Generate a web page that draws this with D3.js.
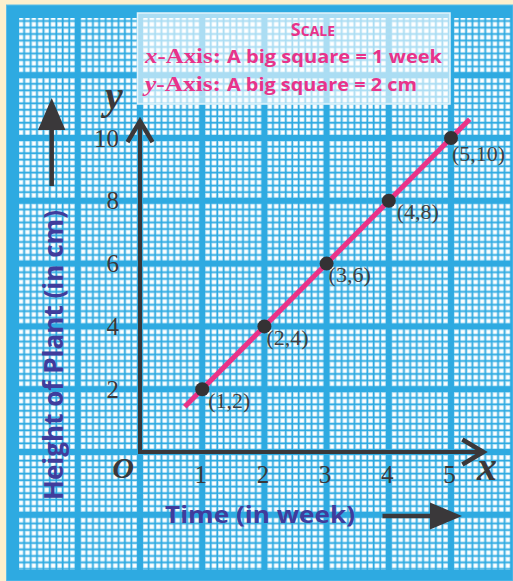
<!DOCTYPE html>
<html>
<head>
<meta charset="utf-8">
<script src="https://cdn.jsdelivr.net/npm/d3@7"></script>
<style>
  html, body { margin: 0; padding: 0; background: #fdf0cd; }
  svg { display: block; }
</style>
</head>
<body>
<svg id="chart" width="513" height="581"></svg>
<script>
// Plant growth: height (cm) against time (weeks)
const weeks = [1, 2, 3, 4, 5];
const heights = [2, 4, 6, 8, 10];
const pointLabels = ["(1,2)", "(2,4)", "(3,6)", "(4,8)", "(5,10)"];
const xTicks = [1, 2, 3, 4, 5];
const yTicks = [2, 4, 6, 8, 10];
// straight line through the plotted points, extended a little past both ends
const trendWeeks = [0.72, 5.3];
const trendHeights = [1.44, 10.6];

const scaleLines = {
  title: ["S", "CALE"],
  xAxisName: ["x", "-Axis:"],
  xAxisText: "A big square = 1 week",
  yAxisName: ["y", "-Axis:"],
  yAxisText: "A big square = 2 cm"
};
const xTitle = "Time (in week)";
const yTitle = "Height of Plant (in cm)";

// ---- styling ----
const BLUE = "#2eaae1";
const INK = "#3a383a";
const PINK = "#e8338a";
const PURPLE = "#403c9c";
const SERIF = "'Liberation Serif', 'Times New Roman', serif";
const SANS = "'Open Sans', 'Noto Sans', sans-serif";

const svg = d3.select("#chart");

const x = d3.scaleLinear().domain([0, 5]).range([140, 451]);
const y = d3.scaleLinear().domain([0, 10]).range([452, 138]);

// ---- graph-paper background ----
const bigW = x(1) - x(0);      // one week
const bigH = y(0) - y(2);      // two cm
const defs = svg.append("defs");
const pat = defs.append("pattern")
  .attr("id", "paper")
  .attr("patternUnits", "userSpaceOnUse")
  .attr("x", x(0)).attr("y", y(0))
  .attr("width", bigW).attr("height", bigH);

const major = 4.4, cell = 4.2;
const qx = (bigW - major) / 9, qy = (bigH - major) / 9;
const cells = d3.cross(d3.range(9), d3.range(9));
pat.selectAll("rect").data(cells).join("rect")
  .attr("x", d => major / 2 + (qx - cell) / 2 + d[0] * qx)
  .attr("y", d => major / 2 + (qy - cell) / 2 + d[1] * qy)
  .attr("width", cell).attr("height", cell)
  .attr("fill", "#ffffff")
  .attr("stroke", "#c4e8f8").attr("stroke-width", 0.6);

svg.append("rect")
  .attr("x", 6.5).attr("y", 5).attr("width", 513 - 6.5).attr("height", 581 - 5)
  .attr("fill", BLUE).attr("stroke", "#5cbde8").attr("stroke-width", 1);

svg.append("rect")
  .attr("x", 19).attr("y", 18).attr("width", 513 - 19).attr("height", 570 - 18)
  .attr("fill", "url(#paper)");

// ---- scale box ----
const box = svg.append("g");
box.append("rect")
  .attr("x", 137.5).attr("y", 13).attr("width", 312.5).attr("height", 91)
  .attr("fill", "#ffffff").attr("fill-opacity", 0.6)
  .attr("stroke", "#e2f4fc").attr("stroke-width", 1.5);

const title = box.append("text")
  .attr("x", 313).attr("y", 36)
  .attr("text-anchor", "middle")
  .attr("font-family", SANS).attr("font-weight", 700)
  .attr("fill", PINK);
title.append("tspan").attr("font-size", 18).text(scaleLines.title[0]);
title.append("tspan").attr("font-size", 14).text(scaleLines.title[1]);

function scaleRow(name, text, baseline, textWidth) {
  const t = box.append("text")
    .attr("x", 145).attr("y", baseline)
    .attr("font-family", SERIF).attr("font-weight", 700)
    .attr("font-size", 21).attr("fill", PINK)
    .attr("textLength", 76).attr("lengthAdjust", "spacingAndGlyphs");
  t.append("tspan").attr("font-style", "italic").text(name[0]);
  t.append("tspan").text(name[1]);
  box.append("text")
    .attr("x", 227).attr("y", baseline)
    .attr("font-family", SANS).attr("font-weight", 700)
    .attr("font-size", 18.5).attr("fill", PINK)
    .attr("textLength", textWidth).attr("lengthAdjust", "spacingAndGlyphs")
    .text(text);
}
scaleRow(scaleLines.xAxisName, scaleLines.xAxisText, 63, 215);
scaleRow(scaleLines.yAxisName, scaleLines.yAxisText, 91, 190);

// ---- axes ----
const axisLine = d3.line().x(d => x(d[0])).y(d => y(d[1]));
svg.append("path")
  .attr("d", axisLine([[0, 10.54], [0, 0], [5.52, 0]]))
  .attr("fill", "none").attr("stroke", INK).attr("stroke-width", 4)
  .attr("stroke-linejoin", "miter");

// open arrow heads at the axis ends
const yTip = [x(0), y(10.54)], xTip = [x(5.52), y(0)];
svg.append("path")
  .attr("d", `M${yTip[0] - 12.5},${yTip[1] + 21} L${yTip[0]},${yTip[1]} L${yTip[0] + 12.5},${yTip[1] + 21}`)
  .attr("fill", "none").attr("stroke", INK).attr("stroke-width", 4.5)
  .attr("stroke-linejoin", "miter");
svg.append("path")
  .attr("d", `M${xTip[0] - 21},${xTip[1] - 12.5} L${xTip[0]},${xTip[1]} L${xTip[0] - 21},${xTip[1] + 12.5}`)
  .attr("fill", "none").attr("stroke", INK).attr("stroke-width", 4.5)
  .attr("stroke-linejoin", "miter");

const xAxis = svg.append("g")
  .attr("transform", `translate(-2,${y(0)})`)
  .call(d3.axisBottom(x).tickValues(xTicks).tickSize(0).tickPadding(13).tickFormat(d3.format("d")));
const yAxis = svg.append("g")
  .attr("transform", `translate(${x(0)},0)`)
  .call(d3.axisLeft(y).tickValues(yTicks).tickSize(0).tickPadding(21).tickFormat(d3.format("d")));
[xAxis, yAxis].forEach(g => {
  g.select(".domain").remove();
  g.selectAll("text")
    .attr("font-family", SERIF).attr("font-size", 25).attr("fill", INK);
});

// axis letters and origin
svg.append("text")
  .attr("x", x(0) - 17).attr("y", y(0) + 26)
  .attr("text-anchor", "middle")
  .attr("font-family", SERIF).attr("font-style", "italic").attr("font-weight", 700)
  .attr("font-size", 30).attr("fill", INK).text("O");
svg.append("text")
  .attr("x", 487).attr("y", y(0) + 28)
  .attr("text-anchor", "middle")
  .attr("font-family", SERIF).attr("font-style", "italic").attr("font-weight", 700)
  .attr("font-size", 40).attr("fill", INK).text("x");
svg.append("text")
  .attr("x", 114).attr("y", 109)
  .attr("text-anchor", "middle")
  .attr("font-family", SERIF).attr("font-style", "italic").attr("font-weight", 700)
  .attr("font-size", 40).attr("fill", INK).text("y");

// ---- axis titles with direction arrows ----
svg.append("text")
  .attr("x", 165).attr("y", 523)
  .attr("font-family", SANS).attr("font-weight", 700)
  .attr("font-size", 23.5).attr("fill", PURPLE)
  .attr("textLength", 190).attr("lengthAdjust", "spacingAndGlyphs")
  .text(xTitle);
svg.append("line")
  .attr("x1", 382.5).attr("y1", 516).attr("x2", 433).attr("y2", 516)
  .attr("stroke", INK).attr("stroke-width", 4.5);
svg.append("path")
  .attr("d", "M430,502.5 L462,516 L430,529.5 Z")
  .attr("fill", INK);

svg.append("text")
  .attr("transform", "translate(62.5,355) rotate(-90)")
  .attr("text-anchor", "middle")
  .attr("font-family", SANS).attr("font-weight", 700)
  .attr("font-size", 26).attr("fill", PURPLE)
  .attr("textLength", 290).attr("lengthAdjust", "spacingAndGlyphs")
  .text(yTitle);
svg.append("line")
  .attr("x1", 51.7).attr("y1", 186).attr("x2", 51.7).attr("y2", 127)
  .attr("stroke", INK).attr("stroke-width", 4.5);
svg.append("path")
  .attr("d", "M38,130 L51.7,98 L65.4,130 Z")
  .attr("fill", INK);

// ---- data ----
svg.append("path")
  .attr("d", d3.line().x(d => x(d[0])).y(d => y(d[1]))(d3.zip(trendWeeks, trendHeights)))
  .attr("fill", "none").attr("stroke", "#ea3388").attr("stroke-width", 5);

const pts = weeks.map((w, i) => ({ w, h: heights[i], label: pointLabels[i] }));
svg.append("g").selectAll("circle").data(pts).join("circle")
  .attr("cx", d => x(d.w)).attr("cy", d => y(d.h)).attr("r", 7)
  .attr("fill", "#343234");

const labelShift = [[6, 19], [2, 19], [2, 18], [8, 18], [1, 23]];
svg.append("g").selectAll("text").data(pts).join("text")
  .attr("x", (d, i) => x(d.w) + labelShift[i][0])
  .attr("y", (d, i) => y(d.h) + labelShift[i][1])
  .attr("font-family", SERIF).attr("font-size", 22).attr("fill", "#403e40")
  .text(d => d.label);
</script>
</body>
</html>
